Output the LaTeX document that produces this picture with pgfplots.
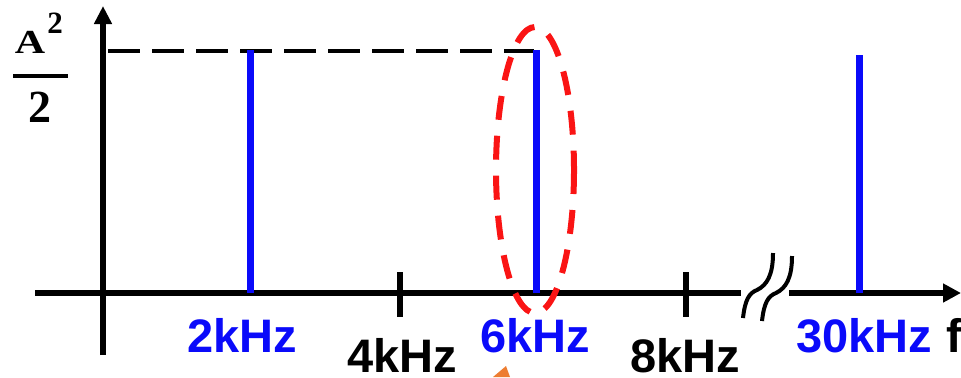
\documentclass[border=0pt]{standalone}
\usepackage[no-math]{fontspec}
\setmainfont{Liberation Sans}
\newfontfamily\serifbf{Liberation Serif}
\usepackage{graphicx}
\usepackage{pgfplots}
\pgfplotsset{compat=1.18}
\usetikzlibrary{arrows.meta}
\definecolor{myblue}{RGB}{10,10,250}
\definecolor{myred}{RGB}{250,20,20}
\definecolor{myorange}{RGB}{237,125,49}
\begin{document}
\begin{tikzpicture}
\path[use as bounding box] (0,0) rectangle (480.5pt,188.5pt);
% axes and annotations (pixel coordinates, 1px = 0.5pt)
\begin{scope}[yshift=188.5pt, x=0.5pt, y=-0.5pt]
  \draw[line width=3pt] (35,293) -- (741,293);
  \draw[line width=3pt, -{Triangle[length=9pt,width=9pt]}] (789,293) -- (961,293);
  \draw[line width=3pt, -{Triangle[length=9pt,width=8.5pt]}] (103,355) -- (103,6);
  \draw[line width=3pt] (400,272) -- (400,317);
  \draw[line width=3pt] (686,272) -- (686,317);
  % axis break
  \draw[line width=2pt] (743,318) .. controls (745,300) and (749,293) .. (757,290) .. controls (767,285) and (773,275) .. (773,253);
  \draw[line width=2pt] (762,321) .. controls (764,303) and (768,296) .. (776,293) .. controls (786,288) and (792,278) .. (792,256);
  % dashed level line
  \draw[line width=2pt, dash pattern=on 16pt off 6pt] (108,51) -- (534,51);
  % tick labels
  \begin{scope}[every node/.style={inner sep=0pt, font=\fontsize{23.5}{28}\selectfont\bfseries}]
    \node[anchor=north, text=myblue] at (242,318) {2kHz};
    \node[anchor=north] at (402,338) {4kHz};
    \node[anchor=north, text=myblue] at (535,318) {6kHz};
    \node[anchor=north] at (685,338) {8kHz};
    \node[anchor=north, text=myblue] at (864,318) {30kHz};
    \node[anchor=north west] at (946,318) {f};
  \end{scope}
  % y label A^2/2
  \node[inner sep=0pt, anchor=base] at (30,53) {\scalebox{1}[0.8]{\fontsize{21}{24}\selectfont\serifbf\bfseries A}};
  \node[inner sep=0pt, anchor=base] at (55,33) {\fontsize{15.5}{18}\selectfont\serifbf\bfseries 2};
  \fill (13,74) rectangle (68,77.5);
  \node[inner sep=0pt, anchor=base] at (40,122) {\fontsize{23}{26}\selectfont\serifbf\bfseries 2};
\end{scope}
\begin{axis}[at={(0,0)}, anchor=south west, scale only axis,
  width=480.5pt, height=188.5pt,
  xmin=-1.4965, xmax=11.944, ymin=-0.3457, ymax=1.2058,
  hide axis, clip=false]
  \addplot[myblue, line width=3.5pt, mark=none] coordinates {(2,0) (2,1)};
  \addplot[myblue, line width=3.5pt, mark=none] coordinates {(6,0) (6,1)};
  \addplot[myblue, line width=3.5pt, mark=none] coordinates {(10.53,0) (10.53,0.98)};
\end{axis}
\begin{scope}[yshift=188.5pt, x=0.5pt, y=-0.5pt]
  \draw[myred, line width=3pt, dash pattern=on 12pt off 8pt] (535,170) ellipse [x radius=39, y radius=143];
  \fill[myorange] (506,366) -- (493,377) -- (510,377) -- cycle;
\end{scope}
\end{tikzpicture}
\end{document}
